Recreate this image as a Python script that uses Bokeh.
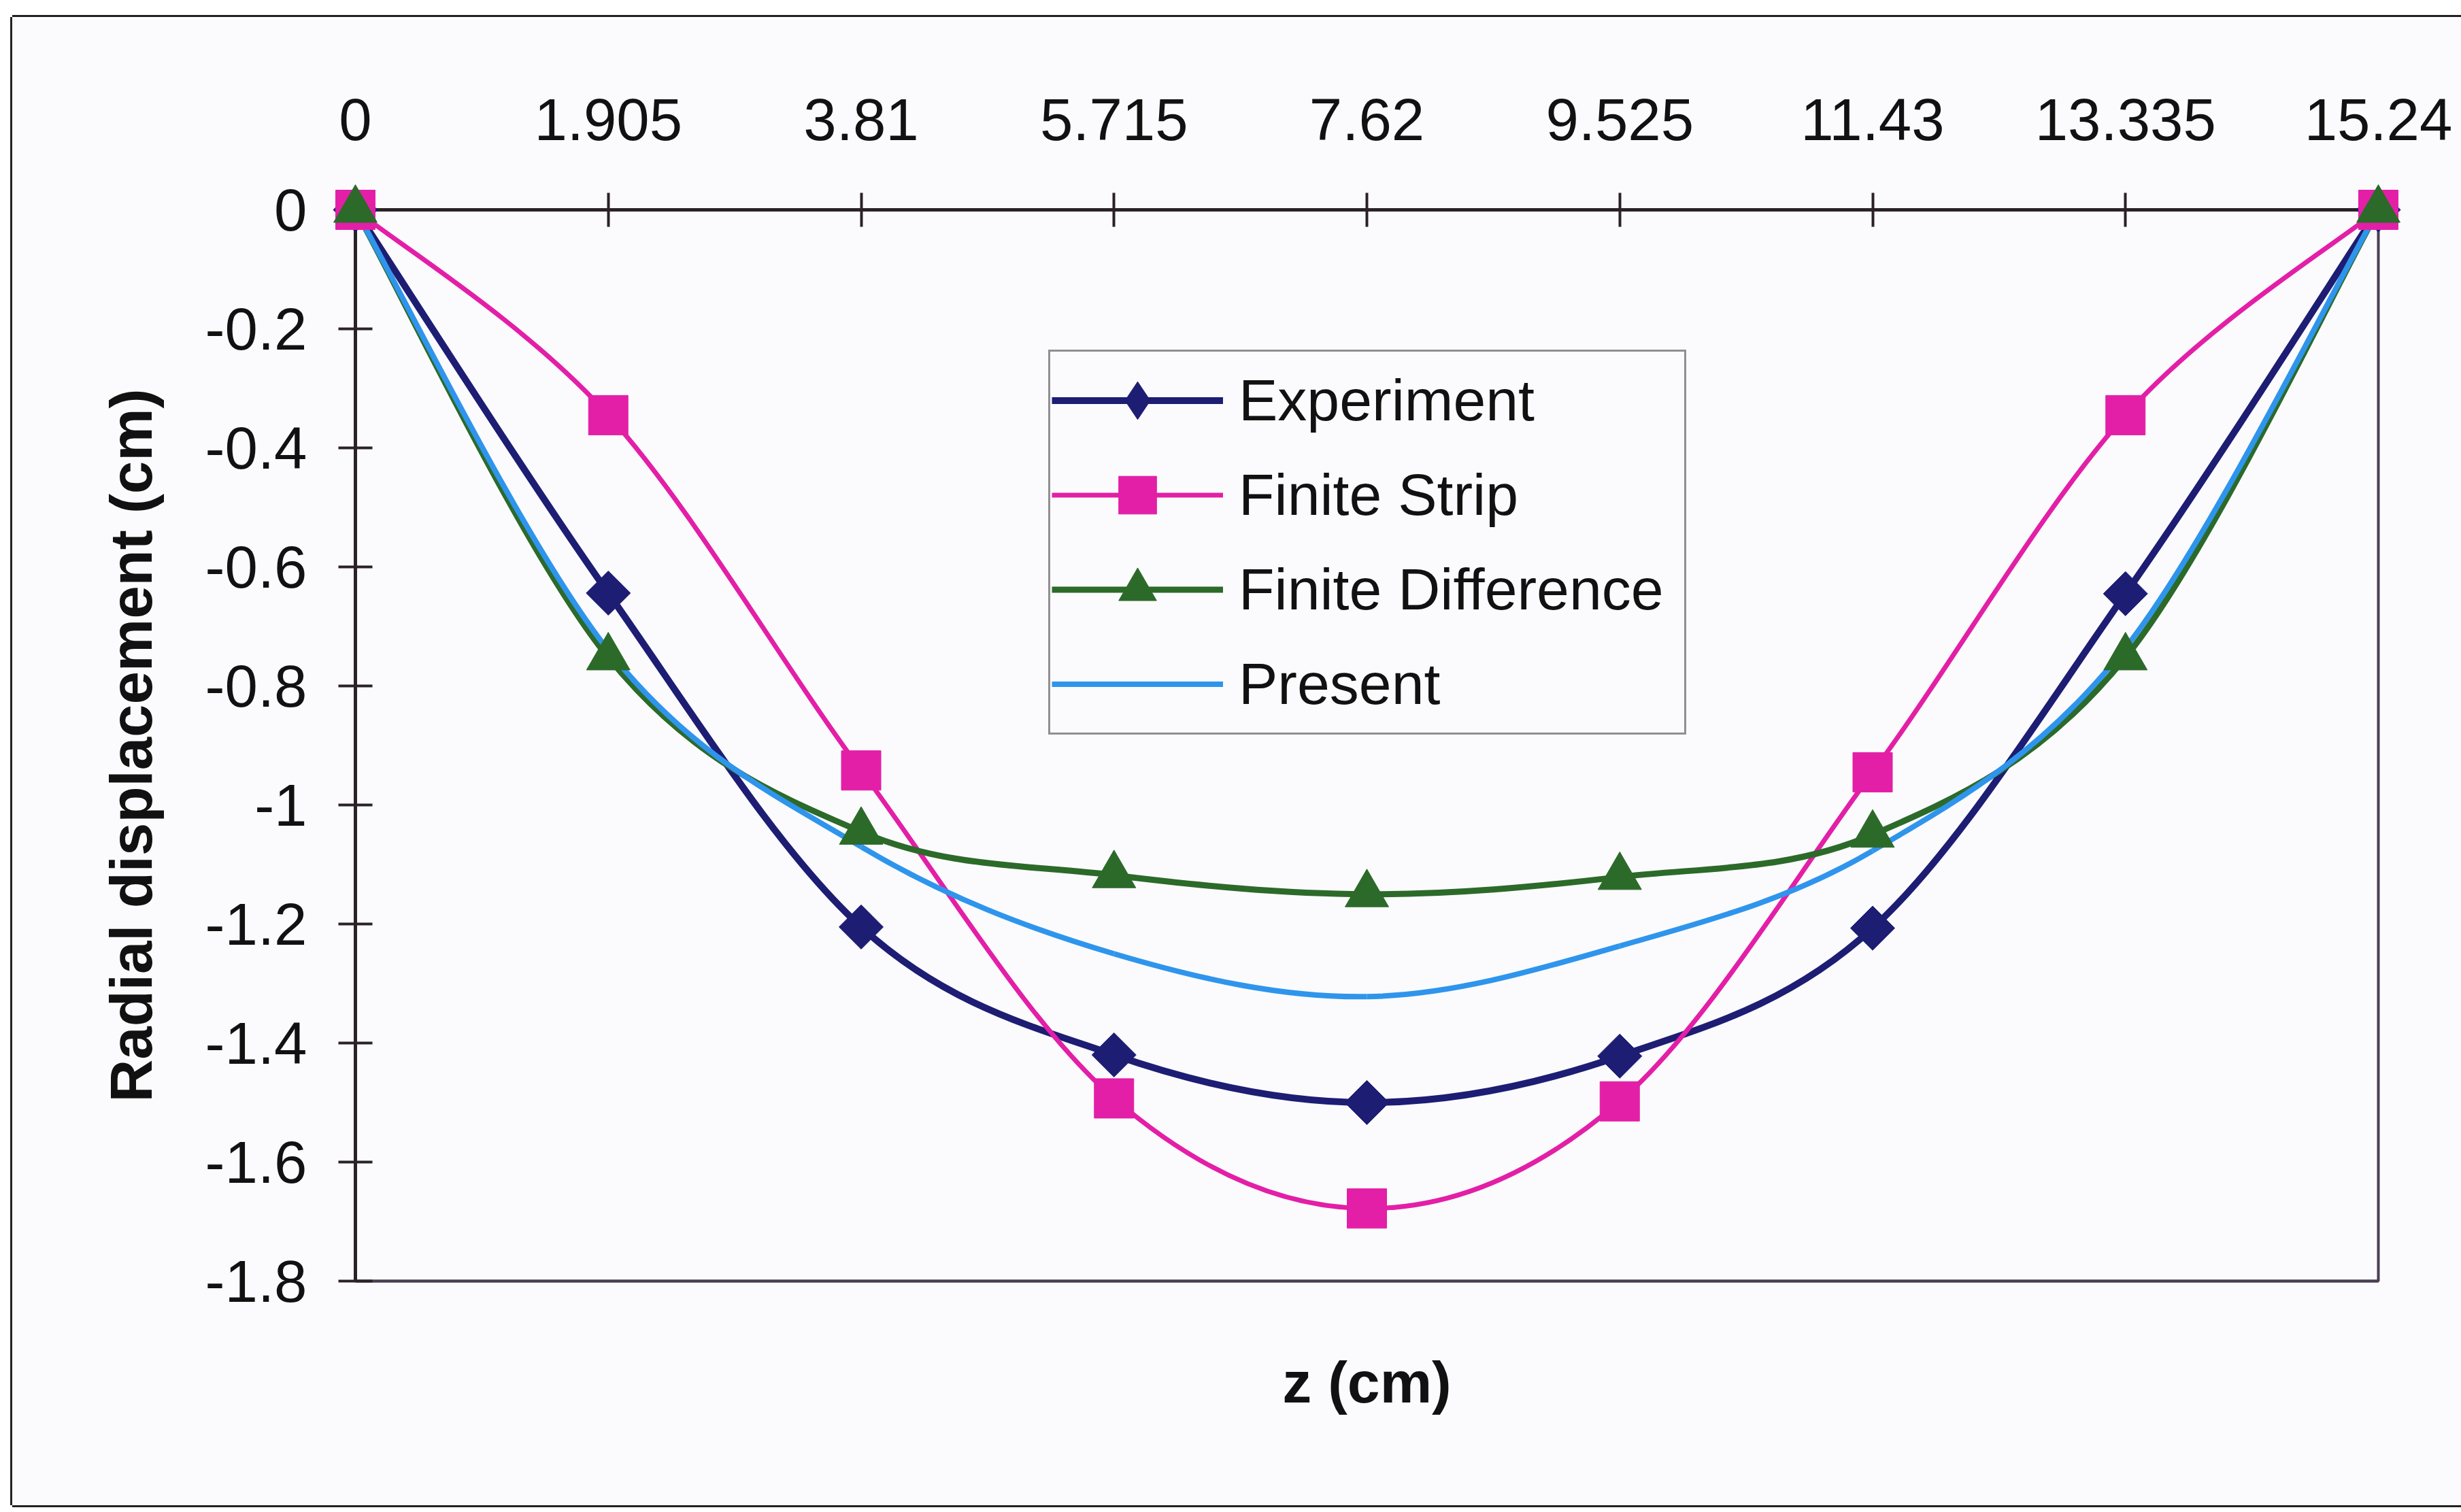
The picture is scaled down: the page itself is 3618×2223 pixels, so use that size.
import numpy as np
from bokeh.plotting import figure
from bokeh.models import (LinearAxis, FixedTicker, Legend, LegendItem,
                          Range1d, NumeralTickFormatter)
from bokeh.embed import file_html
from bokeh.resources import INLINE

# ---- data ----
z = [0, 1.905, 3.81, 5.715, 7.62, 9.525, 11.43, 13.335, 15.24]
x_tick_labels = ["0", "1.905", "3.81", "5.715", "7.62", "9.525", "11.43", "13.335", "15.24"]
y_ticks = [0, -0.2, -0.4, -0.6, -0.8, -1.0, -1.2, -1.4, -1.6, -1.8]
y_tick_labels = ["0", "-0.2", "-0.4", "-0.6", "-0.8", "-1", "-1.2", "-1.4", "-1.6", "-1.8"]

experiment = [0, -0.644, -1.205, -1.420, -1.500, -1.422, -1.207, -0.645, 0]
finite_strip = [0, -0.345, -0.942, -1.493, -1.678, -1.498, -0.945, -0.345, 0]
finite_difference = [0, -0.752, -1.045, -1.118, -1.150, -1.121, -1.050, -0.752, 0]
present = [0, -0.740, -1.070, -1.250, -1.322, -1.237, -1.077, -0.736, 0]

series_names = ["Experiment", "Finite Strip", "Finite Difference", "Present"]

NAVY = "#1d1d74"
PINK = "#e31fa7"
GREEN = "#2c6a2a"
BLUE = "#2f95ec"
FONT = "Liberation Sans"
BG = "#fbfbfd"

p = figure(width=3600, height=2188, output_backend="svg", toolbar_location=None,
           x_range=Range1d(0, 15.24), y_range=Range1d(-1.8, 0),
           x_axis_location="above",
           min_border_left=504, min_border_right=122,
           min_border_top=283, min_border_bottom=330)
p.margin = (25, 0, 0, 18)
p.styles = {"box-shadow": "-3px 0 0 0 #222222, 0 -3px 0 0 #222222, 0 3px 0 0 #222222"}
p.background_fill_color = BG
p.border_fill_color = BG
p.xgrid.visible = False
p.ygrid.visible = False
p.outline_line_color = "#4a3f52"
p.outline_line_width = 4

xa = p.xaxis[0]
ya = p.yaxis[0]
xa.ticker = FixedTicker(ticks=z)
xa.formatter = NumeralTickFormatter(format="0.[000]")
xa.major_label_overrides = {t: s for t, s in zip(z, x_tick_labels)}
ya.ticker = FixedTicker(ticks=y_ticks)
ya.formatter = NumeralTickFormatter(format="0.[000]")
ya.major_label_overrides = {t: s for t, s in zip(y_ticks, y_tick_labels)}
ya.axis_label = "Radial displacement (cm)"

for ax in (xa, ya):
    ax.axis_line_color = "#2a2226"
    ax.axis_line_width = 5
    ax.major_tick_line_color = "#2a2226"
    ax.major_tick_line_width = 4
    ax.major_tick_in = 25
    ax.major_tick_out = 25
    ax.minor_tick_line_color = None
    ax.major_label_text_font = FONT
    ax.major_label_text_font_size = "87px"
    ax.major_label_text_color = "#111111"
    ax.axis_label_text_font = FONT
    ax.axis_label_text_font_style = "bold"
    ax.axis_label_text_font_size = "87px"
    ax.axis_label_text_color = "#111111"
xa.major_label_standoff = 78
ya.major_label_standoff = 46
ya.axis_label_standoff = 58

xb = LinearAxis(ticker=FixedTicker(ticks=[]), axis_label="z (cm)")
xb.axis_line_color = "#4a3f52"
xb.axis_line_width = 4
xb.major_tick_line_color = None
xb.minor_tick_line_color = None
xb.major_tick_out = 0
xb.major_tick_in = 0
xb.major_label_standoff = 0
xb.axis_label_standoff = 100
xb.axis_label_text_font = FONT
xb.axis_label_text_font_style = "bold"
xb.axis_label_text_font_size = "86px"
xb.axis_label_text_color = "#111111"
p.add_layout(xb, "below")


def smooth_segments(xs, ys):
    """Bezier control points of an Excel-style smoothed line through the data points."""
    n = len(xs)
    seg = {k: [] for k in ("x0", "y0", "x1", "y1", "cx0", "cy0", "cx1", "cy1")}
    for i in range(n - 1):
        im, ip = max(i - 1, 0), min(i + 2, n - 1)
        seg["x0"].append(xs[i]); seg["y0"].append(ys[i])
        seg["x1"].append(xs[i + 1]); seg["y1"].append(ys[i + 1])
        seg["cx0"].append(xs[i] + (xs[i + 1] - xs[im]) / 6.0)
        seg["cy0"].append(ys[i] + (ys[i + 1] - ys[im]) / 6.0)
        seg["cx1"].append(xs[i + 1] - (xs[ip] - xs[i]) / 6.0)
        seg["cy1"].append(ys[i + 1] - (ys[ip] - ys[i]) / 6.0)
    return seg


lines = {}
specs = [
    (series_names[0], experiment, NAVY, 10),
    (series_names[1], finite_strip, PINK, 7),
    (series_names[2], finite_difference, GREEN, 9),
    (series_names[3], present, BLUE, 8),
]
for name, ys, col, lw in specs:
    lines[name] = p.bezier(line_color=col, line_width=lw, **smooth_segments(z, ys))

m_exp = p.scatter(z, experiment, marker="square", angle=np.pi / 4, size=46,
                  fill_color=NAVY, line_color=NAVY, level="overlay")
m_fs = p.scatter(z, finite_strip, marker="square", size=58,
                 fill_color=PINK, line_color=PINK, level="overlay")
m_fd = p.scatter(z, finite_difference, marker="triangle", size=64,
                 fill_color=GREEN, line_color=GREEN, level="overlay")
# legend-only diamond symbol (the legend does not rotate markers)
m_exp_key = p.scatter(z, experiment, marker="diamond", size=60,
                      fill_color=NAVY, line_color=NAVY, visible=False)

legend = Legend(items=[
    LegendItem(label=series_names[0], renderers=[lines[series_names[0]], m_exp_key]),
    LegendItem(label=series_names[1], renderers=[lines[series_names[1]], m_fs]),
    LegendItem(label=series_names[2], renderers=[lines[series_names[2]], m_fd]),
    LegendItem(label=series_names[3], renderers=[lines[series_names[3]]]),
], location=(1019, 803), margin=0, padding=2, spacing=0,
    glyph_width=252, glyph_height=139, label_standoff=23,
    label_width=653, label_height=100,
    label_text_font=FONT, label_text_font_size="86px", label_text_color="#111111",
    border_line_color="#2a2226", border_line_width=3,
    background_fill_color=BG, background_fill_alpha=1.0)
p.add_layout(legend)

open("out.html", "w").write(file_html(p, INLINE))
